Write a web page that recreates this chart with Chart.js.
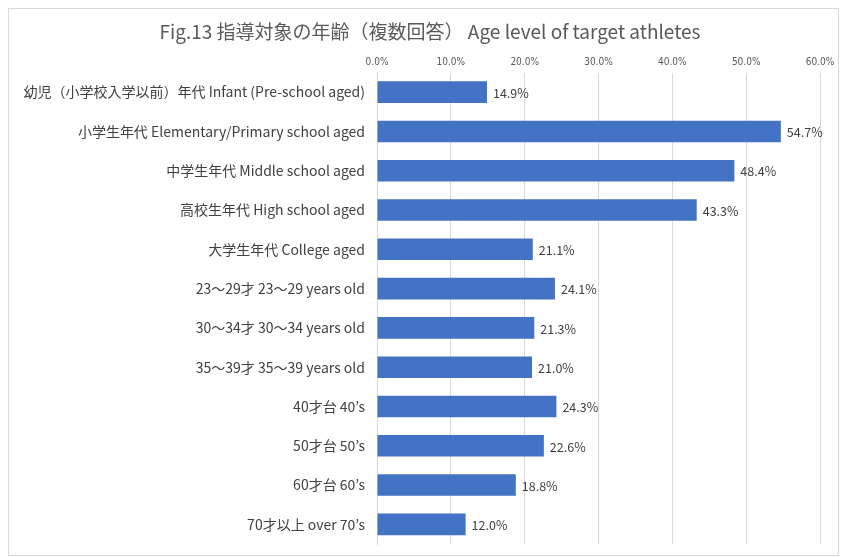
<!DOCTYPE html>
<html>
<head>
<meta charset="utf-8">
<script src="https://cdn.jsdelivr.net/npm/chart.js@4/dist/chart.umd.min.js"></script>
<style>
  html, body { margin: 0; padding: 0; background: #fff; }
  #wrap { width: 843px; height: 557px; position: relative; }
</style>
</head>
<body>
<div id="wrap"><canvas id="ageChart" width="843" height="557"></canvas></div>
<script>
// data
const titleText = "Fig.13 指導対象の年齢（複数回答） Age level of target athletes";
const categories = [
	"幼児（小学校入学以前）年代 Infant (Pre-school aged)",
	"小学生年代 Elementary/Primary school aged",
	"中学生年代 Middle school aged",
	"高校生年代 High school aged",
	"大学生年代 College aged",
	"23～29才 23～29 years old",
	"30～34才 30～34 years old",
	"35～39才 35～39 years old",
	"40才台 40’s",
	"50才台 50’s",
	"60才台 60’s",
	"70才以上 over 70’s"
];
const percentValues = [14.9, 54.7, 48.4, 43.3, 21.1, 24.1, 21.3, 21.0, 24.3, 22.6, 18.8, 12.0];
const axisMin = 0;
const axisMax = 60;
const axisStep = 10;

const jpFont = "'Noto Sans CJK JP', 'Noto Sans', sans-serif";

// frame around the whole chart + title centred on the frame (not the padded area)
const framePlugin = {
	id: "frame",
	beforeDraw(chart) {
		const ctx = chart.ctx;
		ctx.save();
		ctx.fillStyle = "#ffffff";
		ctx.fillRect(0, 0, chart.width, chart.height);
		ctx.strokeStyle = "#d9d9d9";
		ctx.lineWidth = 1;
		ctx.strokeRect(8.5, 8.5, chart.width - 13, chart.height - 10);
		ctx.font = "19px " + jpFont;
		ctx.fillStyle = "#595959";
		ctx.textAlign = "center";
		ctx.textBaseline = "middle";
		ctx.fillText(titleText, 430, 32);
		ctx.restore();
	}
};

// value labels at the end of each bar
const valueLabelPlugin = {
	id: "valueLabels",
	afterDatasetsDraw(chart) {
		const ctx = chart.ctx;
		const meta = chart.getDatasetMeta(0);
		ctx.save();
		ctx.font = "12.5px " + jpFont;
		ctx.fillStyle = "#404040";
		ctx.textAlign = "left";
		ctx.textBaseline = "middle";
		meta.data.forEach((bar, i) => {
			ctx.fillText(percentValues[i].toFixed(1) + "%", bar.x + 6, bar.y + 1);
		});
		ctx.restore();
	}
};

new Chart(document.getElementById("ageChart"), {
	type: "bar",
	data: {
		labels: categories,
		datasets: [{
			data: percentValues,
			backgroundColor: "#4472c4",
			borderWidth: 0,
			barPercentage: 0.55,
			categoryPercentage: 1.0
		}]
	},
	options: {
		indexAxis: "y",
		responsive: false,
		animation: false,
		layout: { padding: { left: 10, right: 23, top: 52.5, bottom: 13 } },
		plugins: {
			legend: { display: false },
			tooltip: { enabled: false },
			title: { display: false }
		},
		scales: {
			x: {
				position: "top",
				min: axisMin,
				max: axisMax,
				ticks: {
					stepSize: axisStep,
					color: "#595959",
					padding: 4,
					font: { family: "'Liberation Sans Narrow', 'DejaVu Sans Condensed', sans-serif", size: 10 },
					callback: v => v.toFixed(1) + "%"
				},
				grid: { color: "#d9d9d9", drawTicks: false },
				border: { display: false },
				afterFit(scale) { scale.height = 20; }
			},
			y: {
				ticks: {
					color: "#404040",
					padding: 4,
					autoSkip: false,
					font: { family: jpFont, size: 14 }
				},
				grid: { display: false },
				border: { color: "#d9d9d9" },
				afterFit(scale) { scale.width = 367; }
			}
		}
	},
	plugins: [framePlugin, valueLabelPlugin]
});
</script>
</body>
</html>
